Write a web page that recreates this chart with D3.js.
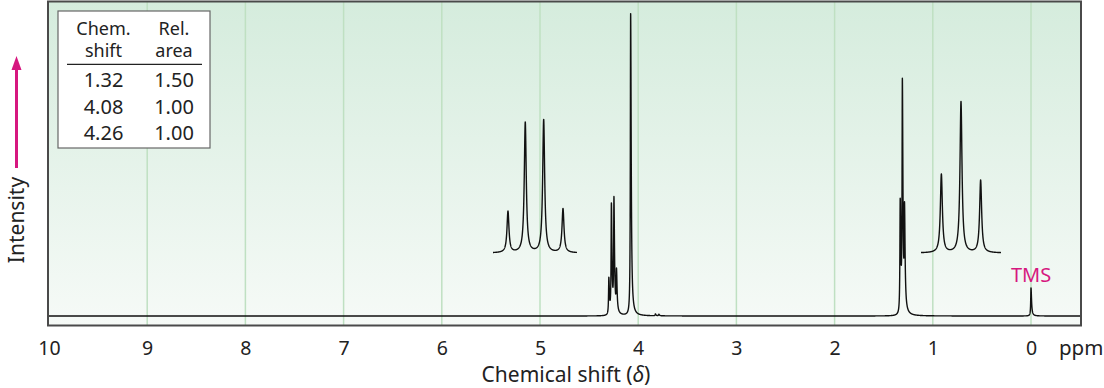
<!DOCTYPE html>
<html>
<head>
<meta charset="utf-8">
<script src="https://cdnjs.cloudflare.com/ajax/libs/d3/7.8.5/d3.min.js"></script>
<style>
  body { margin: 0; background: #fff; }
  svg { display: block; font-family: "Noto Sans", sans-serif; }
</style>
</head>
<body>
<div id="chart-target"></div>
<script>
// NMR spectrum data

var tickPpm = [10, 9, 8, 7, 6, 5, 4, 3, 2, 1, 0];
var gridPpm = [9, 8, 7, 6, 5, 4, 3, 2, 1, 0];

// line positions (ppm) and heights (tallest line at 4.08 = 100)
var peakPpm    = [0.000, 1.288, 1.310, 1.332, 3.790, 3.825, 4.077, 4.221, 4.247, 4.273, 4.299];
var peakHeight = [9.3,   31,    75,    37,    0.5,   0.6,   100,   13.0,  37.0,  36.0,  12.0];

// expanded multiplets (heights relative to the tallest line of the inset)
var quartetPpm    = [4.2986, 4.2739, 4.2476, 4.2200];
var quartetHeight = [0.31, 0.98, 1.00, 0.33];
var tripletPpm    = [1.347, 1.320, 1.293];
var tripletHeight = [0.52, 1.00, 0.48];

// table
var tableHead  = [['Chem.', 'shift'], ['Rel.', 'area']];
var tableShift = ['1.32', '4.08', '4.26'];
var tableArea  = ['1.50', '1.00', '1.00'];

var width = 1104, height = 388;
var magenta = '#d6177f';

var svg = d3.select('#chart-target').append('svg')
    .attr('width', width)
    .attr('height', height);

var defs = svg.append('defs');
var grad = defs.append('linearGradient')
    .attr('id', 'bg-grad')
    .attr('x1', 0).attr('y1', 0).attr('x2', 0).attr('y2', 1);
grad.append('stop').attr('offset', '0%').attr('stop-color', '#d5ecdd');
grad.append('stop').attr('offset', '100%').attr('stop-color', '#f6faf7');

// plot frame
var frame = { left: 48, right: 1081, top: 1.5, bottom: 325.5 };

var x = d3.scaleLinear().domain([10, 0]).range([49, 1031]);
var y = d3.scaleLinear().domain([0, 100]).range([316, 14]);

svg.append('rect')
    .attr('x', frame.left)
    .attr('y', frame.top)
    .attr('width', frame.right - frame.left)
    .attr('height', frame.bottom - frame.top)
    .attr('fill', 'url(#bg-grad)');

svg.append('g').attr('class', 'grid')
  .selectAll('line')
    .data(gridPpm)
  .enter().append('line')
    .attr('x1', (d) => x(d)).attr('x2', (d) => x(d))
    .attr('y1', frame.top).attr('y2', frame.bottom)
    .attr('stroke', '#bfe0c2')
    .attr('stroke-width', 1.5);

// sum of lorentzian lines, a bit wider on the low-ppm (right) side like the plotted trace
function lineShape(ppms, heights, gLeft, gRight) {
  return function(p) {
    return d3.sum(ppms, (c, i) => {
      var g = p > c ? gLeft : gRight;
      return heights[i] * g * g / ((p - c) * (p - c) + g * g);
    });
  };
}

// main trace
var mainShape = lineShape(peakPpm, peakHeight, 0.0035, 0.0065);
var mainPts = d3.range(10, -0.5, -0.0005).map((p) => [p, mainShape(p)]);

svg.append('path')
    .datum(mainPts)
    .attr('fill', 'none')
    .attr('stroke', '#111')
    .attr('stroke-width', 1.4)
    .attr('stroke-linejoin', 'round')
    .attr('d', d3.line().x((d) => x(d[0])).y((d) => y(d[1])));

// insets (expanded multiplets)
function drawInset(ppms, heights, domain, xRange, base, top, gamma) {
  var ix = d3.scaleLinear().domain(domain).range(xRange);
  var iy = d3.scaleLinear().domain([0, 1]).range([base, top]);
  var shape = lineShape(ppms, heights, gamma, gamma);
  var step = (domain[0] - domain[1]) / 800;
  var pts = d3.range(domain[0], domain[1] - step / 2, -step).map((p) => [p, shape(p)]);
  svg.append('path')
      .datum(pts)
      .attr('fill', 'none')
      .attr('stroke', '#111')
      .attr('stroke-width', 1.4)
      .attr('stroke-linejoin', 'round')
      .attr('d', d3.line().x((d) => ix(d[0])).y((d) => iy(d[1])));
}

drawInset(quartetPpm, quartetHeight, [4.32, 4.20], [493, 577], 253, 120, 0.0017);
drawInset(tripletPpm, tripletHeight, [1.375, 1.265], [921, 1001], 253, 102, 0.00165);

// TMS label
svg.append('text')
    .attr('x', x(0))
    .attr('y', 282)
    .attr('text-anchor', 'middle')
    .attr('fill', magenta)
    .style('font-size', '20px')
    .text('TMS');

// frame border on top of everything
svg.append('rect')
    .attr('x', frame.left)
    .attr('y', frame.top)
    .attr('width', frame.right - frame.left)
    .attr('height', frame.bottom - frame.top)
    .attr('fill', 'none')
    .attr('stroke', '#4a4a4a')
    .attr('stroke-width', 2);

// x axis
var xAxis = svg.append('g')
    .attr('transform', `translate(0,${frame.bottom})`)
    .call(d3.axisBottom(x).tickValues(tickPpm).tickSize(0).tickPadding(16).tickFormat(d3.format('d')));

xAxis.select('.domain').remove();
xAxis.selectAll('text')
    .attr('fill', '#222')
    .style('font-size', '19.5px')
    .style('font-family', '"Noto Sans", sans-serif');

svg.append('text')
    .attr('x', 1059)
    .attr('y', 355)
    .attr('fill', '#222')
    .style('font-size', '20.5px')
    .text('ppm');

var xLabel = svg.append('text')
    .attr('x', 566)
    .attr('y', 382)
    .attr('text-anchor', 'middle')
    .attr('fill', '#222')
    .style('font-size', '21px');
xLabel.append('tspan').text('Chemical shift (');
xLabel.append('tspan').style('font-style', 'italic').text('δ');
xLabel.append('tspan').text(')');

// intensity arrow + label
svg.append('line')
    .attr('x1', 16.5).attr('x2', 16.5)
    .attr('y1', 168).attr('y2', 66)
    .attr('stroke', magenta)
    .attr('stroke-width', 3);
svg.append('path')
    .attr('d', 'M16.5,56 L11.5,70 L21.5,70 Z')
    .attr('fill', magenta);

svg.append('text')
    .attr('transform', 'translate(24,220) rotate(-90)')
    .attr('text-anchor', 'middle')
    .attr('fill', '#222')
    .style('font-size', '21px')
    .text('Intensity');

// table box
var table = svg.append('g').attr('class', 'shift-table');
table.append('rect')
    .attr('x', 58).attr('y', 11)
    .attr('width', 152).attr('height', 137)
    .attr('fill', '#fff')
    .attr('stroke', '#666')
    .attr('stroke-width', 1.2);

var colX = [103.5, 174];

tableHead.forEach((lines, c) => {
  lines.forEach((t, r) => {
    table.append('text')
        .attr('x', colX[c])
        .attr('y', 34.5 + r * 22.5)
        .attr('text-anchor', 'middle')
        .attr('fill', '#222')
        .style('font-size', '18px')
        .text(t);
  });
});

table.append('line')
    .attr('x1', 67).attr('x2', 202)
    .attr('y1', 64.3).attr('y2', 64.3)
    .attr('stroke', '#222')
    .attr('stroke-width', 1.3);

tableShift.forEach((s, i) => {
  table.append('text')
      .attr('x', colX[0])
      .attr('y', 87 + i * 26.5)
      .attr('text-anchor', 'middle')
      .attr('fill', '#222')
      .style('font-size', '20px')
      .text(s);
  table.append('text')
      .attr('x', colX[1])
      .attr('y', 87 + i * 26.5)
      .attr('text-anchor', 'middle')
      .attr('fill', '#222')
      .style('font-size', '20px')
      .text(tableArea[i]);
});
</script>
</body>
</html>
